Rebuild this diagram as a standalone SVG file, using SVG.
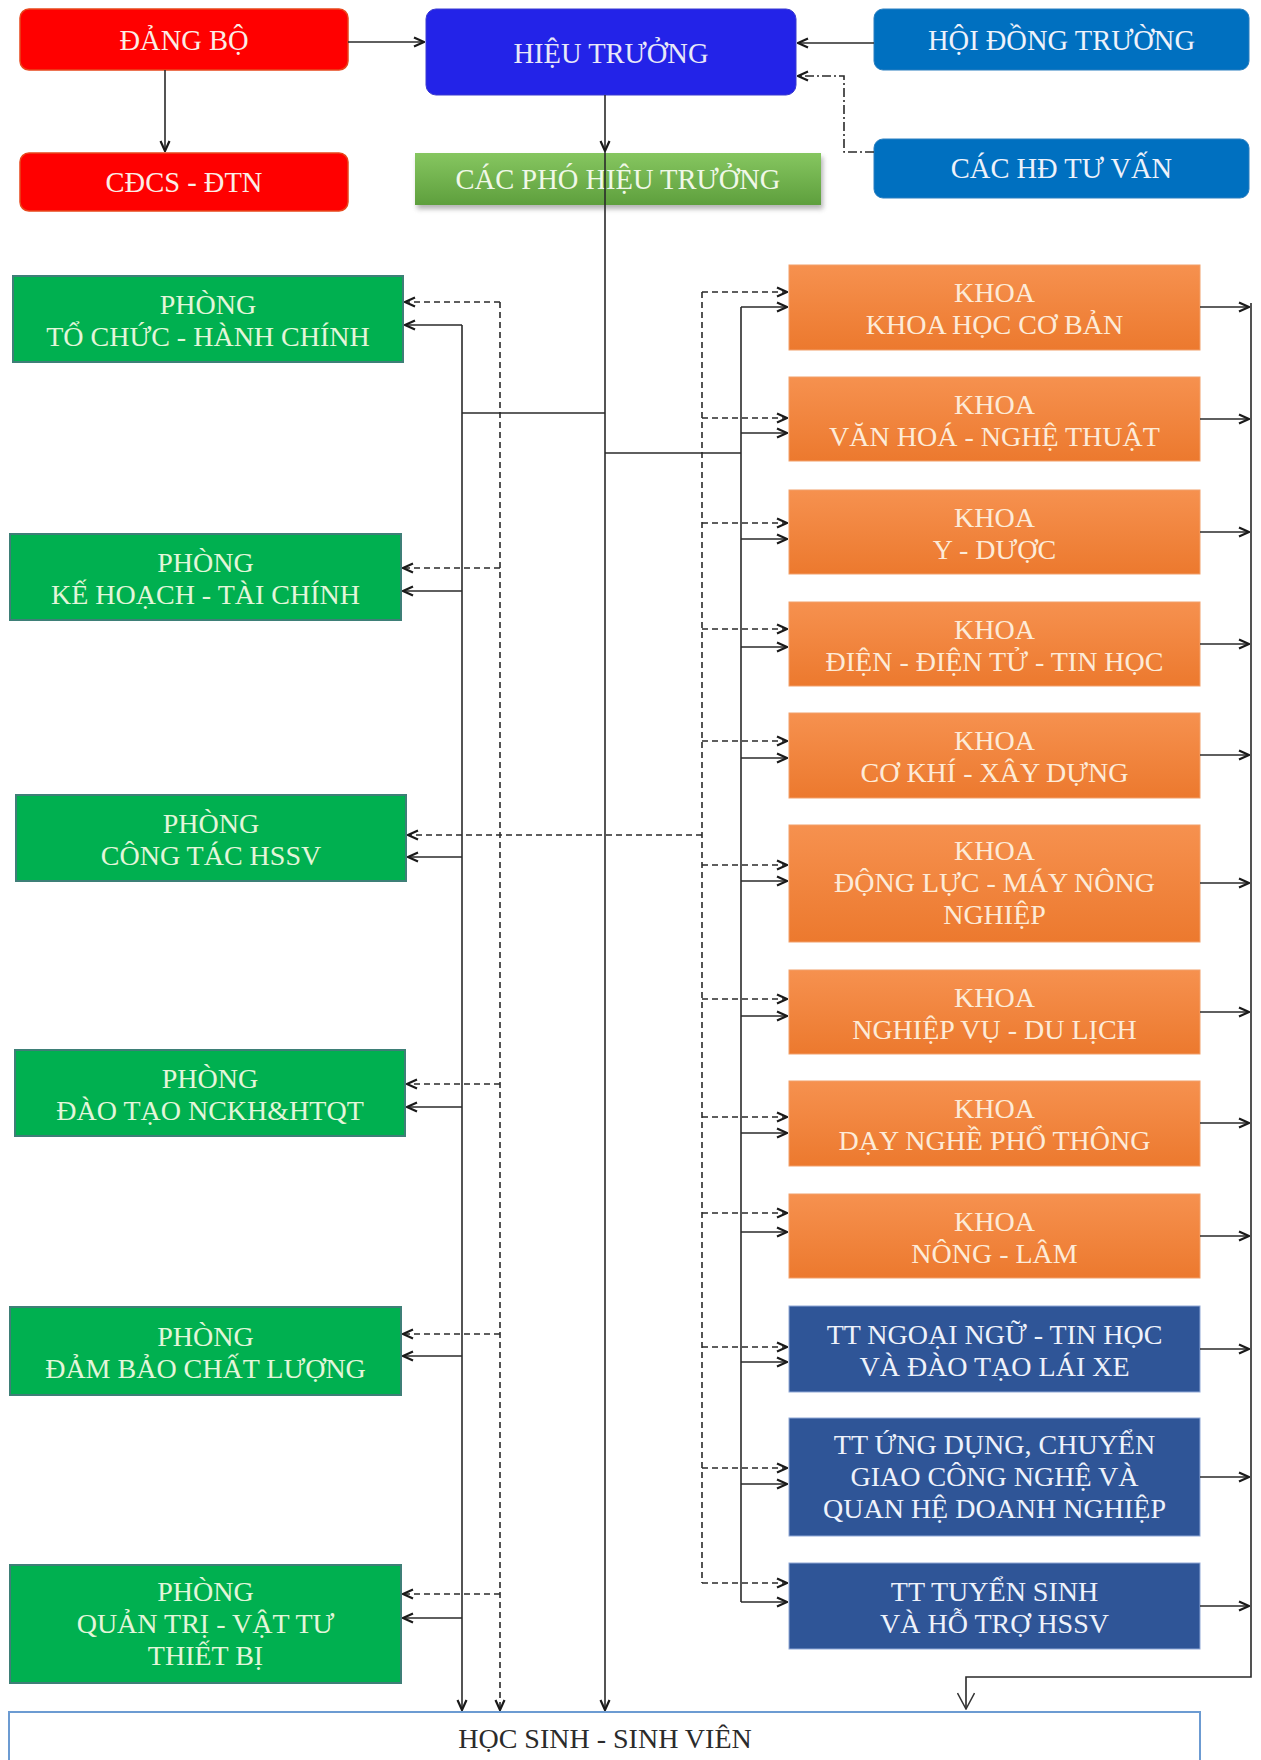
<svg xmlns="http://www.w3.org/2000/svg" width="1261" height="1760" viewBox="0 0 1261 1760">
<defs>
<linearGradient id="og" x1="0" y1="0" x2="0" y2="1"><stop offset="0" stop-color="#F6914F"/><stop offset="1" stop-color="#EC792E"/></linearGradient>
<linearGradient id="pg" x1="0" y1="0" x2="0" y2="1"><stop offset="0" stop-color="#86C660"/><stop offset="1" stop-color="#5E9F3D"/></linearGradient>
<filter id="sh" x="-5%" y="-20%" width="110%" height="150%"><feGaussianBlur stdDeviation="2.5"/></filter>
<marker id="a" viewBox="0 0 12 12" refX="11" refY="6" markerWidth="12" markerHeight="12" markerUnits="userSpaceOnUse" orient="auto"><path d="M1,1.5 L11,6 L1,10.5" fill="none" stroke="#1a1a1a" stroke-width="2.2"/></marker>
<marker id="v" viewBox="0 0 18 18" refX="17" refY="9" markerWidth="18" markerHeight="18" markerUnits="userSpaceOnUse" orient="auto"><path d="M1,0.5 L17,9 L1,17.5" fill="none" stroke="#333" stroke-width="1.5"/></marker>
</defs>
<style>
text{font-family:"Liberation Serif","Times New Roman",serif;font-size:28px;text-anchor:middle}
.big{font-size:28.5px}
.red{fill:#FF0000;stroke:#E8471C;stroke-width:1.5}
.blu{fill:#0070C0;stroke:#2A7FC0;stroke-width:1}
.grn{fill:#00B050;stroke:#3E7F77;stroke-width:2}
.org{fill:url(#og);stroke:#F2A06A;stroke-width:1}
.dbl{fill:#2F5597;stroke:#8FA8D6;stroke-width:1}
.tw{fill:#FBEDE6}
.tg{fill:#E3F6DA}
.to{fill:#FDEBD8}
.tb{fill:#EEF2FB}
.c{fill:none;stroke:#2a2a2a;stroke-width:1.6}
.d{stroke-dasharray:6 4}
.dd{stroke-dasharray:9 3 2 3}
</style>

<g id="dang-bo"><rect class="red" x="20" y="9" width="328" height="61" rx="9"/><text class="big tw" x="184" y="50">ĐẢNG BỘ</text></g>
<g id="cdcs-dtn"><rect class="red" x="20" y="153" width="328" height="58" rx="9"/><text class="big tw" x="184" y="192">CĐCS - ĐTN</text></g>
<g id="hieu-truong"><rect x="426" y="9" width="370" height="86" rx="10" fill="#2323E8" stroke="#3B3BD0" stroke-width="1"/><text class="big" fill="#E8E8F8" x="611" y="63">HIỆU TRƯỞNG</text></g>
<g id="hoi-dong-truong"><rect class="blu" x="874" y="9" width="375" height="61" rx="9"/><text class="big tb" x="1061.5" y="50">HỘI ĐỒNG TRƯỜNG</text></g>
<g id="cac-hd-tu-van"><rect class="blu" x="874" y="139" width="375" height="59" rx="9"/><text class="big tb" x="1061.5" y="178">CÁC HĐ TƯ VẤN</text></g>
<g id="cac-pho-hieu-truong"><rect x="417" y="157" width="406" height="52" fill="#777" opacity="0.55" filter="url(#sh)"/><rect x="415" y="153" width="406" height="52" fill="url(#pg)"/><text class="big" fill="#F0F8E8" x="618" y="189">CÁC PHÓ HIỆU TRƯỞNG</text></g>

<g id="phong-tchc"><rect class="grn" x="13" y="276" width="390" height="86"/><text class="tg" x="208" y="314">PHÒNG</text><text class="tg" x="208" y="346">TỔ CHỨC - HÀNH CHÍNH</text></g>
<g id="phong-khtc"><rect class="grn" x="10" y="534" width="391" height="86"/><text class="tg" x="205.5" y="572">PHÒNG</text><text class="tg" x="205.5" y="604">KẾ HOẠCH - TÀI CHÍNH</text></g>
<g id="phong-cthssv"><rect class="grn" x="16" y="795" width="390" height="86"/><text class="tg" x="211" y="833">PHÒNG</text><text class="tg" x="211" y="865">CÔNG TÁC HSSV</text></g>
<g id="phong-daotao"><rect class="grn" x="15" y="1050" width="390" height="86"/><text class="tg" x="210" y="1088">PHÒNG</text><text class="tg" x="210" y="1120">ĐÀO TẠO NCKH&amp;HTQT</text></g>
<g id="phong-dbcl"><rect class="grn" x="10" y="1307" width="391" height="88"/><text class="tg" x="205.5" y="1346">PHÒNG</text><text class="tg" x="205.5" y="1378">ĐẢM BẢO CHẤT LƯỢNG</text></g>
<g id="phong-qtvt"><rect class="grn" x="10" y="1565" width="391" height="118"/><text class="tg" x="205.5" y="1601">PHÒNG</text><text class="tg" x="205.5" y="1633">QUẢN TRỊ - VẬT TƯ</text><text class="tg" x="205.5" y="1665">THIẾT BỊ</text></g>

<g id="khoa-khcb"><rect class="org" x="789" y="265" width="411" height="85"/><text class="to" x="994.5" y="302">KHOA</text><text class="to" x="994.5" y="334">KHOA HỌC CƠ BẢN</text></g>
<g id="khoa-vhnt"><rect class="org" x="789" y="377" width="411" height="84"/><text class="to" x="994.5" y="414">KHOA</text><text class="to" x="994.5" y="446">VĂN HOÁ - NGHỆ THUẬT</text></g>
<g id="khoa-yduoc"><rect class="org" x="789" y="490" width="411" height="84"/><text class="to" x="994.5" y="527">KHOA</text><text class="to" x="994.5" y="559">Y - DƯỢC</text></g>
<g id="khoa-dien"><rect class="org" x="789" y="602" width="411" height="84"/><text class="to" x="994.5" y="639">KHOA</text><text class="to" x="994.5" y="671">ĐIỆN - ĐIỆN TỬ - TIN HỌC</text></g>
<g id="khoa-ckxd"><rect class="org" x="789" y="713" width="411" height="85"/><text class="to" x="994.5" y="750">KHOA</text><text class="to" x="994.5" y="782">CƠ KHÍ - XÂY DỰNG</text></g>
<g id="khoa-dlmnn"><rect class="org" x="789" y="825" width="411" height="117"/><text class="to" x="994.5" y="860">KHOA</text><text class="to" x="994.5" y="892">ĐỘNG LỰC - MÁY NÔNG</text><text class="to" x="994.5" y="924">NGHIỆP</text></g>
<g id="khoa-nvdl"><rect class="org" x="789" y="970" width="411" height="84"/><text class="to" x="994.5" y="1007">KHOA</text><text class="to" x="994.5" y="1039">NGHIỆP VỤ - DU LỊCH</text></g>
<g id="khoa-dnpt"><rect class="org" x="789" y="1081" width="411" height="85"/><text class="to" x="994.5" y="1118">KHOA</text><text class="to" x="994.5" y="1150">DẠY NGHỀ PHỔ THÔNG</text></g>
<g id="khoa-nonglam"><rect class="org" x="789" y="1194" width="411" height="84"/><text class="to" x="994.5" y="1231">KHOA</text><text class="to" x="994.5" y="1263">NÔNG - LÂM</text></g>
<g id="tt-nnth"><rect class="dbl" x="789" y="1306" width="411" height="86"/><text class="tb" x="994.5" y="1344">TT NGOẠI NGỮ - TIN HỌC</text><text class="tb" x="994.5" y="1376">VÀ ĐÀO TẠO LÁI XE</text></g>
<g id="tt-udcg"><rect class="dbl" x="789" y="1418" width="411" height="118"/><text class="tb" x="994.5" y="1454">TT ỨNG DỤNG, CHUYỂN</text><text class="tb" x="994.5" y="1486">GIAO CÔNG NGHỆ VÀ</text><text class="tb" x="994.5" y="1518">QUAN HỆ DOANH NGHIỆP</text></g>
<g id="tt-tuyensinh"><rect class="dbl" x="789" y="1563" width="411" height="86"/><text class="tb" x="994.5" y="1601">TT TUYỂN SINH</text><text class="tb" x="994.5" y="1633">VÀ HỖ TRỢ HSSV</text></g>

<g id="hoc-sinh-sinh-vien"><rect x="9" y="1712" width="1191" height="60" fill="#FFFFFF" stroke="#6C9BD2" stroke-width="2"/><text fill="#2B2B2B" x="605" y="1748">HỌC SINH - SINH VIÊN</text></g>

<g id="connectors">
<path class="c" d="M348,42 H424" marker-end="url(#a)"/>
<path class="c" d="M165,70 V151" marker-end="url(#a)"/>
<path class="c" d="M874,43 H798" marker-end="url(#a)"/>
<path class="c dd" d="M874,152 H844 V76 H798" marker-end="url(#a)"/>
<path class="c" d="M605,95 V151" marker-end="url(#a)"/>
<path class="c" d="M605,151 V1710" marker-end="url(#a)"/>
<path class="c" d="M605,413 H462"/>
<path class="c" d="M462,325 V1710" marker-end="url(#a)"/>
<path class="c" d="M462,325 H405" marker-end="url(#a)"/>
<path class="c" d="M462,591 H403" marker-end="url(#a)"/>
<path class="c" d="M462,857 H408" marker-end="url(#a)"/>
<path class="c" d="M462,1107 H407" marker-end="url(#a)"/>
<path class="c" d="M462,1356 H403" marker-end="url(#a)"/>
<path class="c" d="M462,1618 H403" marker-end="url(#a)"/>
<path class="c d" d="M500,302 V1710" marker-end="url(#a)"/>
<path class="c d" d="M500,302 H405" marker-end="url(#a)"/>
<path class="c d" d="M500,568 H403" marker-end="url(#a)"/>
<path class="c d" d="M702,835 H408" marker-end="url(#a)"/>
<path class="c d" d="M500,1084 H407" marker-end="url(#a)"/>
<path class="c d" d="M500,1334 H403" marker-end="url(#a)"/>
<path class="c d" d="M500,1594 H403" marker-end="url(#a)"/>
<path class="c" d="M605,453 H741"/>
<path class="c" d="M741,307 V1602"/>
<path class="c" d="M741,307 H787" marker-end="url(#a)"/>
<path class="c" d="M741,433 H787" marker-end="url(#a)"/>
<path class="c" d="M741,539 H787" marker-end="url(#a)"/>
<path class="c" d="M741,647 H787" marker-end="url(#a)"/>
<path class="c" d="M741,758 H787" marker-end="url(#a)"/>
<path class="c" d="M741,881 H787" marker-end="url(#a)"/>
<path class="c" d="M741,1016 H787" marker-end="url(#a)"/>
<path class="c" d="M741,1133 H787" marker-end="url(#a)"/>
<path class="c" d="M741,1232 H787" marker-end="url(#a)"/>
<path class="c" d="M741,1362 H787" marker-end="url(#a)"/>
<path class="c" d="M741,1484 H787" marker-end="url(#a)"/>
<path class="c" d="M741,1602 H787" marker-end="url(#a)"/>
<path class="c d" d="M702,292 V1583"/>
<path class="c d" d="M702,292 H787" marker-end="url(#a)"/>
<path class="c d" d="M702,418 H787" marker-end="url(#a)"/>
<path class="c d" d="M702,523 H787" marker-end="url(#a)"/>
<path class="c d" d="M702,629 H787" marker-end="url(#a)"/>
<path class="c d" d="M702,741 H787" marker-end="url(#a)"/>
<path class="c d" d="M702,865 H787" marker-end="url(#a)"/>
<path class="c d" d="M702,999 H787" marker-end="url(#a)"/>
<path class="c d" d="M702,1117 H787" marker-end="url(#a)"/>
<path class="c d" d="M702,1213 H787" marker-end="url(#a)"/>
<path class="c d" d="M702,1347 H787" marker-end="url(#a)"/>
<path class="c d" d="M702,1468 H787" marker-end="url(#a)"/>
<path class="c d" d="M702,1583 H787" marker-end="url(#a)"/>
<path class="c" d="M1200,307 H1249" marker-end="url(#a)"/>
<path class="c" d="M1200,419 H1249" marker-end="url(#a)"/>
<path class="c" d="M1200,532 H1249" marker-end="url(#a)"/>
<path class="c" d="M1200,644 H1249" marker-end="url(#a)"/>
<path class="c" d="M1200,755 H1249" marker-end="url(#a)"/>
<path class="c" d="M1200,883 H1249" marker-end="url(#a)"/>
<path class="c" d="M1200,1012 H1249" marker-end="url(#a)"/>
<path class="c" d="M1200,1123 H1249" marker-end="url(#a)"/>
<path class="c" d="M1200,1236 H1249" marker-end="url(#a)"/>
<path class="c" d="M1200,1349 H1249" marker-end="url(#a)"/>
<path class="c" d="M1200,1477 H1249" marker-end="url(#a)"/>
<path class="c" d="M1200,1606 H1249" marker-end="url(#a)"/>
<path class="c" d="M1251,303 V1677 H966 V1709" marker-end="url(#v)"/>
</g>
</svg>
